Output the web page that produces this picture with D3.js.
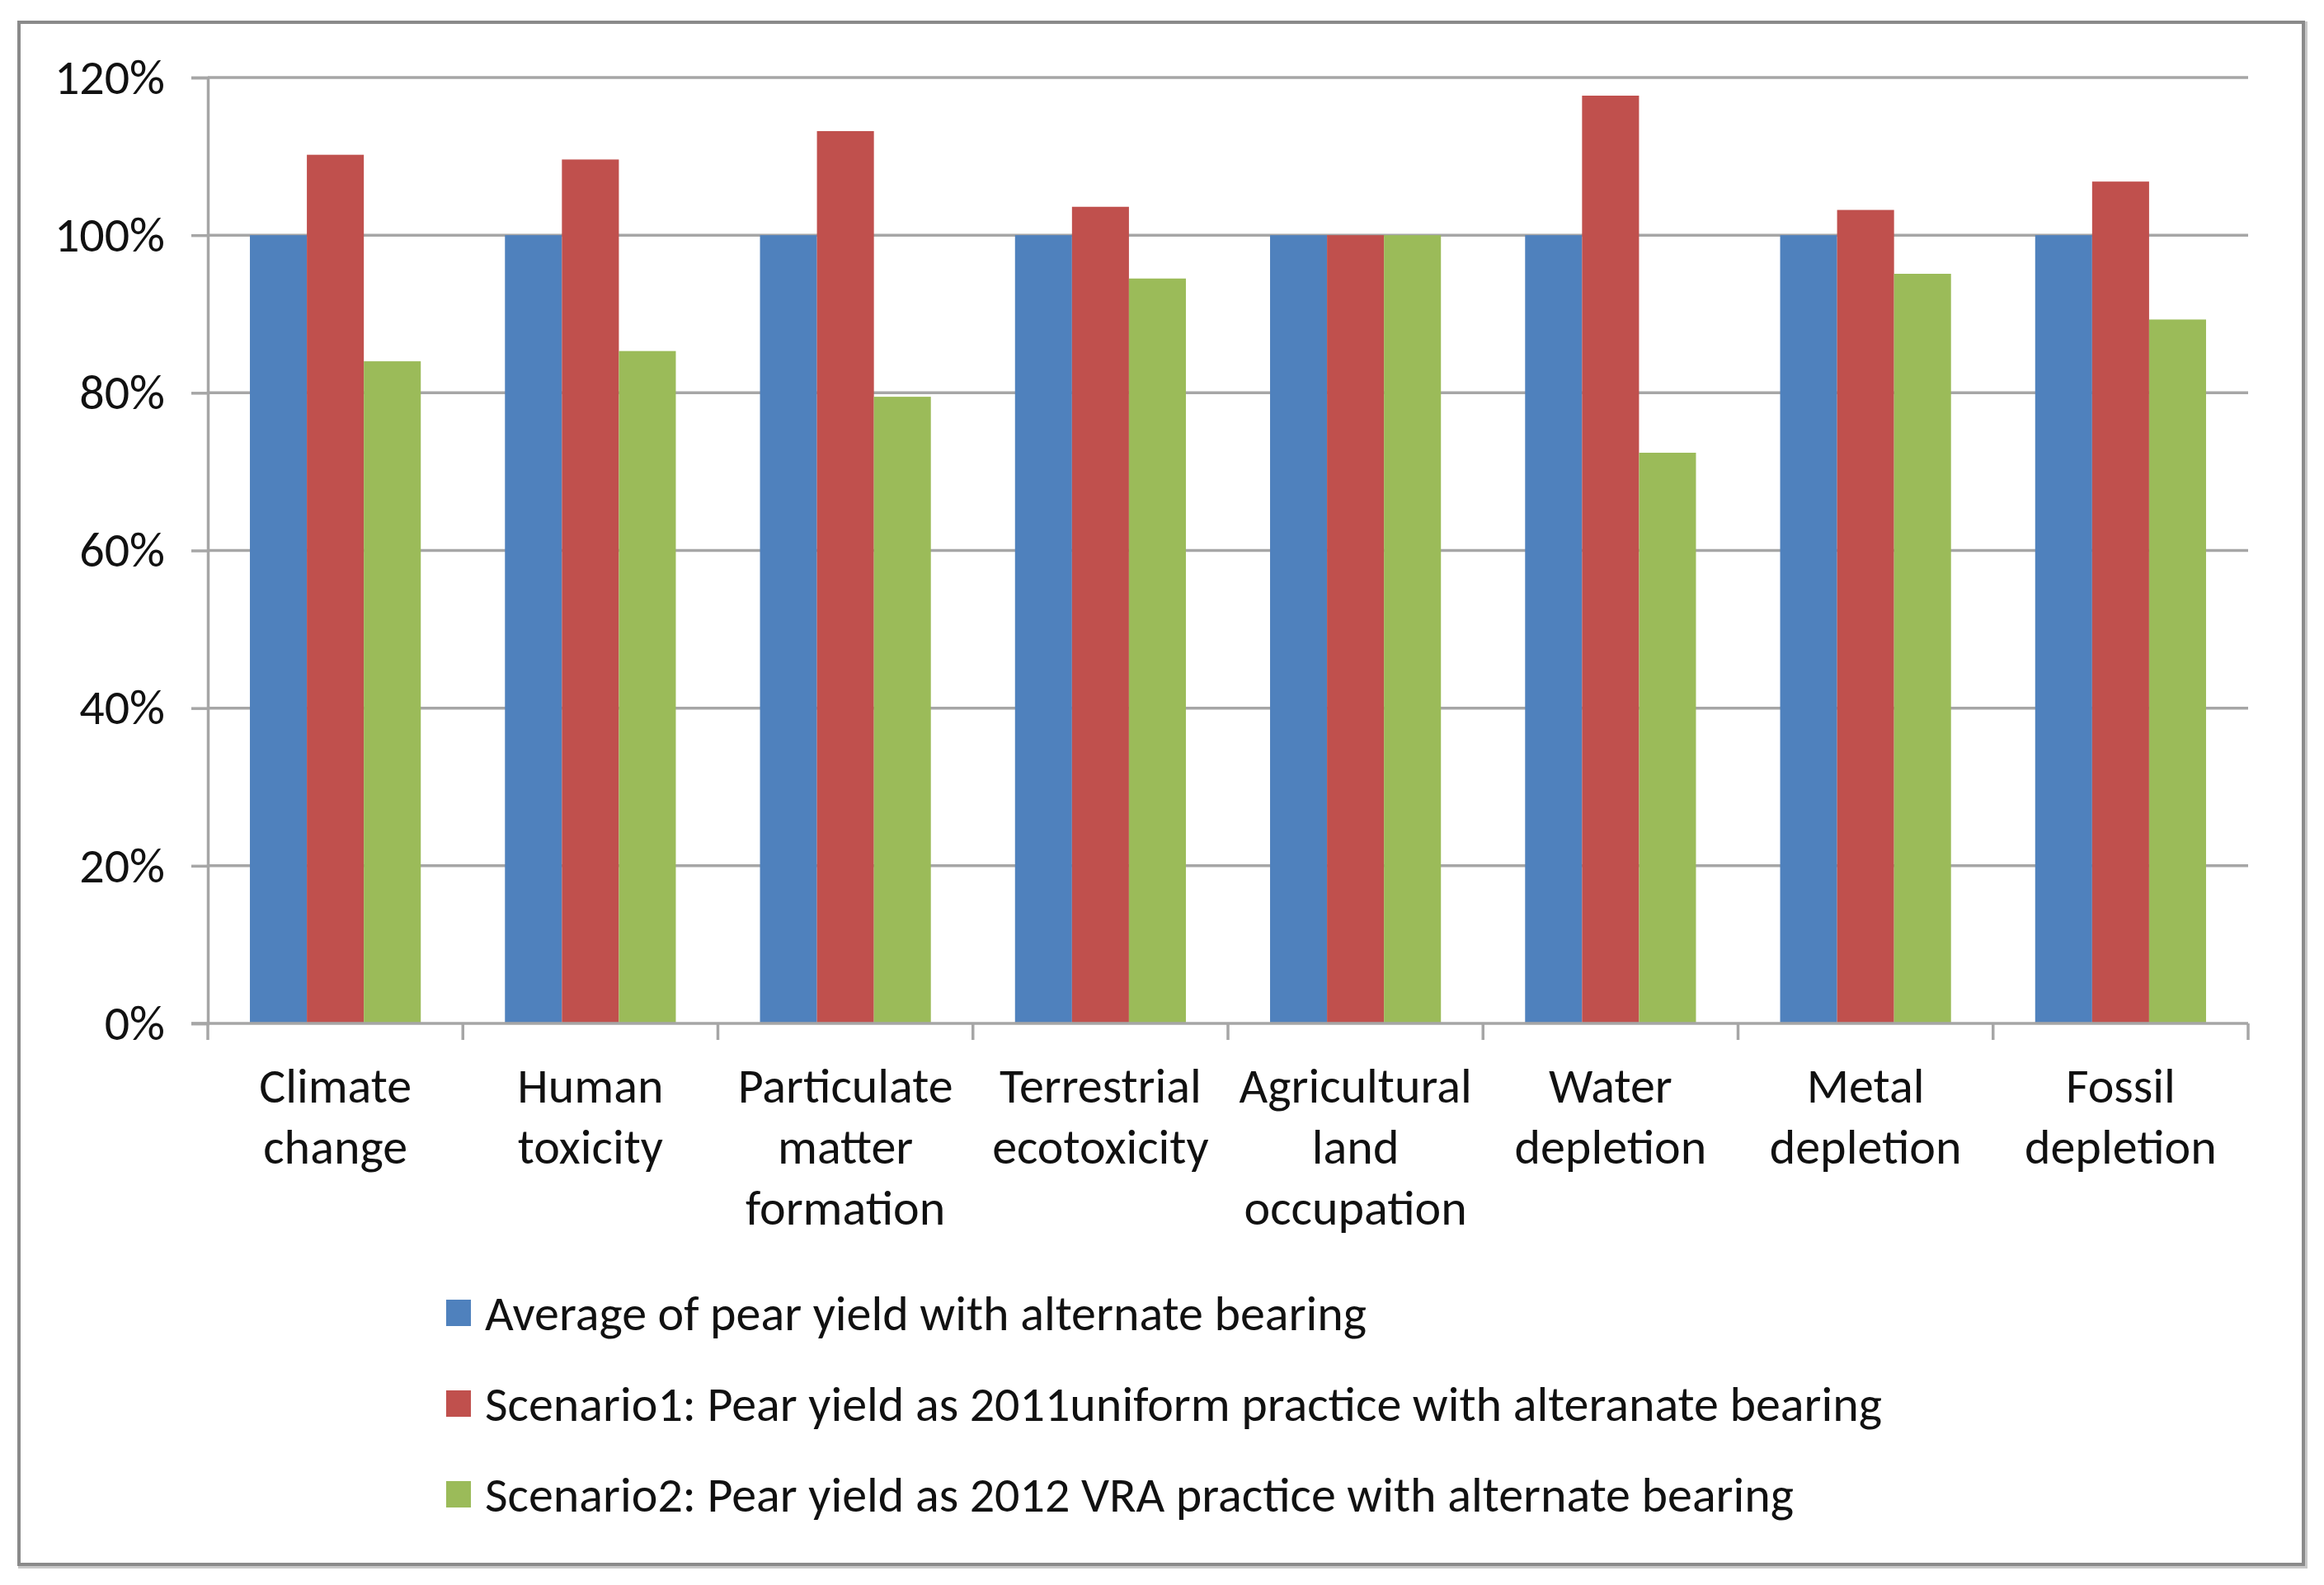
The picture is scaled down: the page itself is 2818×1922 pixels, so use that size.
<!DOCTYPE html>
<html>
<head>
<meta charset="utf-8">
<script src="https://cdn.jsdelivr.net/npm/d3@7"></script>
<style>
  html, body { margin: 0; padding: 0; background: #fff; }
  svg text { font-family: Carlito, Calibri, "Liberation Sans Narrow", "DejaVu Sans Condensed", sans-serif; fill: #111; }
</style>
</head>
<body>
<div id="chart"></div>
<script>
(function (d3) {
    'use strict';

    // categories, each split into the lines shown under the axis
    var categories = [
        ['Climate', 'change'],
        ['Human', 'toxicity'],
        ['Particulate', 'matter', 'formation'],
        ['Terrestrial', 'ecotoxicity'],
        ['Agricultural', 'land', 'occupation'],
        ['Water', 'depletion'],
        ['Metal', 'depletion'],
        ['Fossil', 'depletion']
    ];

    var seriesNames = [
        'Average of pear yield with alternate bearing',
        'Scenario1: Pear yield as 2011uniform practice with alteranate bearing',
        'Scenario2: Pear yield as 2012 VRA practice with alternate bearing'
    ];

    var average   = [1.00, 1.00, 1.00, 1.00, 1.00, 1.00, 1.00, 1.00];
    var scenario1 = [1.102, 1.096, 1.132, 1.036, 1.00, 1.177, 1.032, 1.068];
    var scenario2 = [0.840, 0.853, 0.795, 0.945, 1.00, 0.724, 0.951, 0.893];

    var yTicks = [0, 0.2, 0.4, 0.6, 0.8, 1.0, 1.2];

    var colors = ['#4F81BD', '#C0504D', '#9BBB59'];

    var W = 2818, H = 1922;
    var plot = { left: 252, right: 2726, top: 94, bottom: 1241 };
    var fontSize = 60;

    var svg = d3.select('#chart').append('svg')
        .attr('width', W)
        .attr('height', H);

    // outer frame
    svg.append('rect')
        .attr('x', 25).attr('y', 29)
        .attr('width', 2770).attr('height', 1870)
        .attr('fill', 'none')
        .attr('stroke', '#c8c8c8')
        .attr('stroke-width', 6);
    svg.append('rect')
        .attr('x', 23).attr('y', 27)
        .attr('width', 2770).attr('height', 1870)
        .attr('fill', '#fff')
        .attr('stroke', '#8a8a8a')
        .attr('stroke-width', 4);

    var x0 = d3.scaleBand()
        .domain(d3.range(categories.length))
        .range([plot.left, plot.right])
        .padding(0);

    var gap = x0.bandwidth() * 0.165;
    var x1 = d3.scaleBand()
        .domain(d3.range(seriesNames.length))
        .range([gap, x0.bandwidth() - gap])
        .padding(0);

    var y = d3.scaleLinear()
        .domain([0, 1.2])
        .range([plot.bottom, plot.top]);

    // gridlines
    svg.append('g')
        .selectAll('line')
        .data(yTicks.slice(1))
        .enter()
        .append('line')
        .attr('x1', plot.left)
        .attr('x2', plot.right)
        .attr('y1', function(d) { return y(d); })
        .attr('y2', function(d) { return y(d); })
        .attr('stroke', '#a6a6a6')
        .attr('stroke-width', 3.5);

    // bars
    var series = [average, scenario1, scenario2];
    var groups = svg.append('g')
        .selectAll('g')
        .data(categories)
        .enter()
        .append('g')
        .attr('transform', function(d, i) { return 'translate(' + x0(i) + ',0)'; });

    groups.selectAll('rect')
        .data(function(d, i) {
            return series.map(function(s, k) { return { k: k, v: s[i] }; });
        })
        .enter()
        .append('rect')
        .attr('x', function(d) { return x1(d.k); })
        .attr('width', x1.bandwidth())
        .attr('y', function(d) { return y(d.v); })
        .attr('height', function(d) { return y(0) - y(d.v); })
        .attr('fill', function(d) { return colors[d.k]; });

    // y axis
    var yAxis = d3.axisLeft(y)
        .tickValues(yTicks)
        .tickSize(20)
        .tickPadding(32)
        .tickFormat(d3.format('.0%'));

    var gy = svg.append('g')
        .attr('transform', 'translate(' + plot.left + ',0)')
        .call(yAxis);
    gy.select('.domain').attr('stroke', '#a6a6a6').attr('stroke-width', 3.5);
    gy.selectAll('.tick line').attr('stroke', '#a6a6a6').attr('stroke-width', 3.5);
    gy.selectAll('.tick text')
        .attr('font-size', fontSize)
        .attr('fill', '#111')
        .style('font-family', null);

    // x axis: line and ticks at category boundaries
    svg.append('line')
        .attr('x1', plot.left - 20).attr('x2', plot.right)
        .attr('y1', plot.bottom).attr('y2', plot.bottom)
        .attr('stroke', '#a6a6a6').attr('stroke-width', 3.5);

    var bounds = d3.range(categories.length + 1).map(function(i) {
        return i < categories.length ? x0(i) : plot.right;
    });
    svg.append('g')
        .selectAll('line')
        .data(bounds)
        .enter()
        .append('line')
        .attr('x1', function(d) { return d; })
        .attr('x2', function(d) { return d; })
        .attr('y1', plot.bottom)
        .attr('y2', plot.bottom + 20)
        .attr('stroke', '#a6a6a6')
        .attr('stroke-width', 3.5);

    // category labels
    var labels = svg.append('g')
        .selectAll('text')
        .data(categories)
        .enter()
        .append('text')
        .attr('text-anchor', 'middle')
        .attr('font-size', fontSize)
        .attr('transform', function(d, i) {
            return 'translate(' + (x0(i) + x0.bandwidth() / 2) + ',' + 1337 + ')';
        });
    labels.selectAll('tspan')
        .data(function(d) { return d; })
        .enter()
        .append('tspan')
        .attr('x', 0)
        .attr('y', function(d, i) { return i * 74; })
        .text(function(d) { return d; });

    // legend
    var legend = svg.append('g')
        .selectAll('g')
        .data(seriesNames)
        .enter()
        .append('g')
        .attr('transform', function(d, i) { return 'translate(541,' + (1592 + i * 110) + ')'; });

    legend.append('rect')
        .attr('x', 0).attr('y', -16)
        .attr('width', 30).attr('height', 32)
        .attr('fill', function(d, i) { return colors[i]; });

    legend.append('text')
        .attr('x', 47)
        .attr('y', 21)
        .attr('font-size', fontSize)
        .text(function(d) { return d; });

})(d3);
</script>
</body>
</html>
